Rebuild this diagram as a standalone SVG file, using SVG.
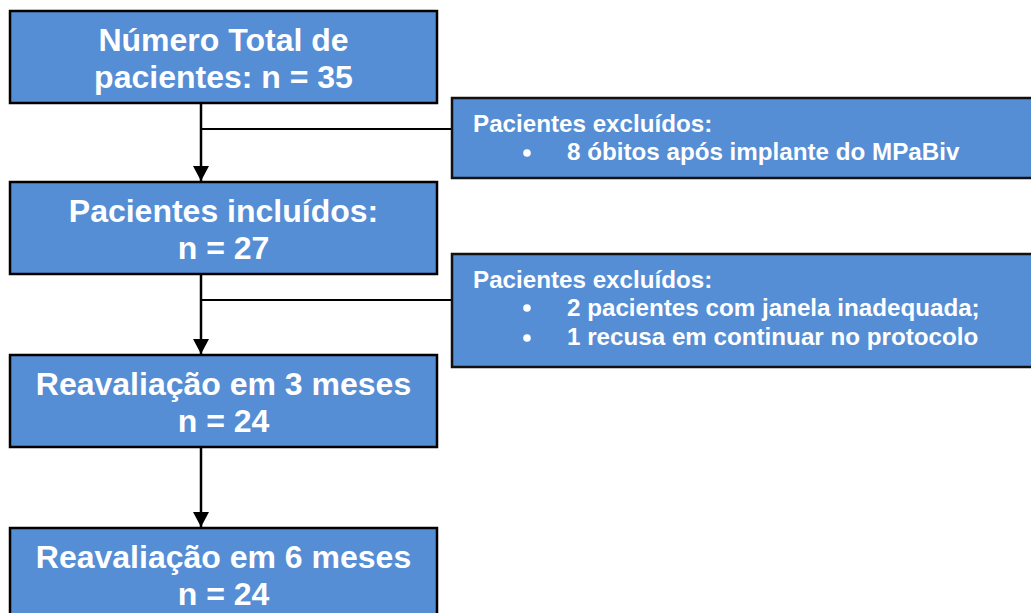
<svg xmlns="http://www.w3.org/2000/svg" width="1031" height="613" viewBox="0 0 1031 613">
<style>
.box{fill:#558ED5;stroke:#000;stroke-width:2.5}
.ex{fill:#558ED5;stroke:#111;stroke-width:2.5}
.t{font-family:"Liberation Sans",Arial,sans-serif;font-weight:bold;fill:#fff;font-size:32px;text-anchor:middle}
.s{font-family:"Liberation Sans",Arial,sans-serif;font-weight:bold;fill:#fff;font-size:24.2px}
.c{stroke:#000;stroke-width:2.5;fill:none}
.h{stroke:#000;stroke-width:1.8;fill:none}
.b{fill:#fff}
</style>
<defs>
<marker id="ar" markerUnits="userSpaceOnUse" markerWidth="16" markerHeight="16" refX="15" refY="8" orient="auto">
<path d="M0,0 L15,8 L0,16 Z" fill="#000"/>
</marker>
</defs>
<g id="connectors">
<line class="c" x1="201" y1="103" x2="201" y2="181" marker-end="url(#ar)"/>
<line class="h" x1="201" y1="129" x2="452" y2="129"/>
<line class="c" x1="201" y1="274" x2="201" y2="354" marker-end="url(#ar)"/>
<line class="h" x1="201" y1="300" x2="452" y2="300"/>
<line class="c" x1="201" y1="448" x2="201" y2="527" marker-end="url(#ar)"/>
</g>
<g id="n1">
<rect class="box" x="10" y="11" width="427" height="92"/>
<text class="t" x="223.5" y="51">Número Total de</text>
<text class="t" x="223.5" y="88">pacientes: n = 35</text>
</g>
<g id="n2">
<rect class="box" x="10" y="182" width="427" height="92"/>
<text class="t" x="223.5" y="222">Pacientes incluídos:</text>
<text class="t" x="223.5" y="259">n = 27</text>
</g>
<g id="n3">
<rect class="box" x="10" y="355" width="427" height="92"/>
<text class="t" x="223.5" y="395">Reavaliação em 3 meses</text>
<text class="t" x="223.5" y="432">n = 24</text>
</g>
<g id="n4">
<rect class="box" x="10" y="528" width="427" height="100"/>
<text class="t" x="223.5" y="568">Reavaliação em 6 meses</text>
<text class="t" x="223.5" y="605">n = 24</text>
</g>
<g id="e1">
<rect class="ex" x="452" y="98" width="600" height="80"/>
<text class="s" x="473" y="132">Pacientes excluídos:</text>
<circle class="b" cx="527" cy="153" r="3.8"/>
<text class="s" x="567" y="160">8 óbitos após implante do MPaBiv</text>
</g>
<g id="e2">
<rect class="ex" x="452" y="254" width="600" height="113"/>
<text class="s" x="473" y="288">Pacientes excluídos:</text>
<circle class="b" cx="527" cy="308" r="3.8"/>
<text class="s" x="567" y="316">2 pacientes com janela inadequada;</text>
<circle class="b" cx="527" cy="338" r="3.8"/>
<text class="s" x="567" y="345">1 recusa em continuar no protocolo</text>
</g>
</svg>
